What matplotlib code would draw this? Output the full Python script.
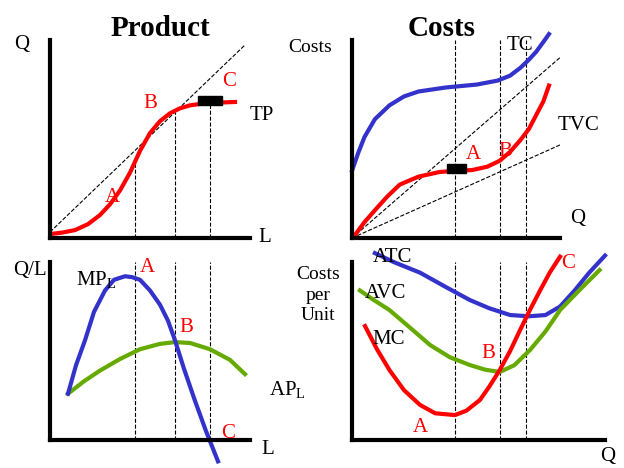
import numpy as np
import matplotlib.pyplot as plt

plt.rcParams['font.family'] = ['Liberation Serif', 'DejaVu Serif']

# top-left: total product
tp_x = [0, 6, 12.5, 19, 25, 30, 35, 40, 45, 50, 55, 60, 65, 70, 75, 85, 92.5]
tp_y = [2, 2.7, 4, 7, 11.6, 17, 24, 33, 44, 53, 59, 63, 65.5, 67, 67.7, 68.4, 68.7]
tp_vlines = [42.5, 62.5, 80]

# bottom-left: marginal and average product
mp_x = [9, 13, 17.5, 22, 27.5, 32, 37.5, 41, 45, 50, 55, 59, 62.5, 67, 72.5, 78, 84]
mp_y = [26, 42, 56, 72, 84, 90, 92, 91.5, 90, 84, 76, 67, 56, 40, 22, 5, -12]
ap_x = [9, 17, 25, 35, 45, 55, 62.5, 70, 80, 90, 97.5]
ap_y = [26, 33, 39, 45.5, 51, 54, 55, 54.5, 51, 45, 37]

# top-right: total costs
tvc_x = [1.4, 6, 11, 17, 23, 32, 42, 50, 57.7, 65, 71, 76, 81, 85, 88.5, 92, 94.7]
tvc_y = [1.5, 8, 14, 21, 27, 31, 33.3, 34, 34.3, 36, 39, 43.5, 49.5, 55, 62, 69, 77]
tc_x = [0, 3, 6, 11, 18, 25, 32, 45, 60, 70, 76, 81, 85, 88.5, 92, 94.7]
tc_y = [34, 43, 51, 60, 67, 71.5, 74, 76, 77.5, 79.5, 82, 86, 90, 94, 99, 103]
tr_vlines = [49.5, 71, 83.5]

# bottom-right: unit costs
mc_x = [6.25, 12, 18, 25, 32.7, 40, 49.5, 55, 61.5, 66, 71, 76, 80.8, 85.5, 90.4, 95, 100]
mc_y = [64, 51, 39.3, 28, 19.7, 15, 14, 16.5, 22.5, 30, 39.3, 50, 61.8, 73, 84, 94, 103]
avc_x = [3.8, 10, 18, 28, 37.5, 47, 56.7, 64, 71, 78, 85.6, 93, 100, 110, 119]
avc_y = [84, 79, 73, 63, 53.4, 46.5, 42.1, 39.5, 38.2, 42, 50.6, 61, 73, 85, 95.5]
atc_x = [11, 20, 32.7, 45, 56.7, 66, 76, 85, 93, 100, 107, 114, 121.6]
atc_y = [105, 100, 94, 86, 78.6, 74, 70.2, 69.5, 70.2, 75, 84, 94, 103.6]
br_vlines = [49.5, 71, 83.5]

RED, BLUE, GREEN = '#ff0000', '#3333cc', '#66aa00'
W, H = 624, 468

fig = plt.figure(figsize=(6.24, 4.68), dpi=100)


def panel(x0, ytop, w, h, xmax=100):
    ax = fig.add_axes([x0 / W, (H - ytop - h) / H, w / W, h / H])
    ax.set_xlim(0, xmax)
    ax.set_ylim(0, 100)
    for s in ['top', 'right']:
        ax.spines[s].set_visible(False)
    for s in ['left', 'bottom']:
        ax.spines[s].set_linewidth(3)
    ax.set_xticks([])
    ax.set_yticks([])
    ax.patch.set_alpha(0)
    return ax


def txt(x, y, s, color='black', size=15, **kw):
    fig.text(x / W, 1 - y / H, s, color=color, fontsize=size, ha='center', va='center', **kw)


dash = dict(color='black', ls='--', lw=0.8)

ax1 = panel(50, 40, 200, 198)
ax1.plot([0, 97.5], [3, 97.5], **dash)
for v in tp_vlines:
    ax1.plot([v, v], [0, np.interp(v, tp_x, tp_y)], **dash)
ax1.plot(tp_x, tp_y, color=RED, lw=3)
ax1.add_patch(plt.Rectangle((74, 67), 12, 4.5, color='black', zorder=5))

ax2 = panel(50, 262, 200, 178)
for v in tp_vlines:
    ax2.plot([v, v], [0, 100], **dash)
ax2.plot(ap_x, ap_y, color=GREEN, lw=3)
ax2.plot(mp_x, mp_y, color=BLUE, lw=3, clip_on=False)

ax3 = panel(352, 40, 208, 198)
ax3.plot([0, 107], [0, 97.5], **dash)
ax3.plot([0, 100], [0, 47], **dash)
for v in tr_vlines:
    ax3.plot([v, v], [0, 100], **dash)
ax3.plot(tc_x, tc_y, color=BLUE, lw=3, clip_on=False)
ax3.plot(tvc_x, tvc_y, color=RED, lw=3)
ax3.add_patch(plt.Rectangle((45.7, 33), 9.3, 4.5, color='black', zorder=5))

ax4 = panel(352, 262, 253, 178, xmax=121.6)
for v in br_vlines:
    ax4.plot([v, v], [0, 100], **dash)
ax4.plot(atc_x, atc_y, color=BLUE, lw=3, clip_on=False)
ax4.plot(avc_x, avc_y, color=GREEN, lw=3)
ax4.plot(mc_x, mc_y, color=RED, lw=3, clip_on=False)

txt(160, 28, 'Product', size=21, fontweight='bold')
txt(442, 28, 'Costs', size=21, fontweight='bold')
txt(22, 45, 'Q')
txt(265, 238, 'L')
txt(30, 270, 'Q/L')
txt(268, 450, 'L')
txt(310, 47, 'Costs', size=14)
txt(578, 218, 'Q')
txt(608, 456, 'Q')
txt(318, 295, 'Costs\nper\nUnit', size=14, linespacing=1.3)
txt(112, 197, 'A', RED)
txt(150, 103, 'B', RED)
txt(229, 82, 'C', RED)
txt(262, 115, 'TP')
txt(96, 280, r'MP$_\mathregular{L}$')
txt(147, 267, 'A', RED)
txt(186, 327, 'B', RED)
txt(228, 433, 'C', RED)
txt(287, 390, r'AP$_\mathregular{L}$')
txt(520, 45, 'TC')
txt(578, 125, 'TVC')
txt(473, 155, 'A', RED)
txt(505, 152, 'B', RED)
txt(392, 258, 'ATC')
txt(385, 294, 'AVC')
txt(389, 340, 'MC')
txt(420, 428, 'A', RED)
txt(488, 353, 'B', RED)
txt(568, 263, 'C', RED)

fig.savefig('out.png')
